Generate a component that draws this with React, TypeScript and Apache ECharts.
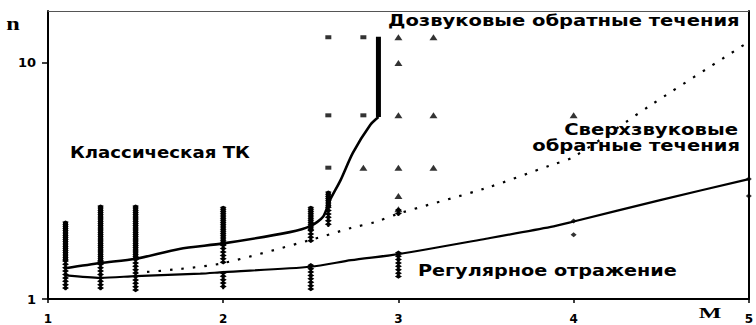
import React, { useEffect, useRef } from 'react';
import * as echarts from 'echarts';

// ---- data (M, n) ----
const upperM = [1.1, 1.3, 1.5, 1.75, 2.0, 2.38, 2.5, 2.57, 2.61, 2.67, 2.74, 2.84, 2.886];
const upperN = [1.35, 1.42, 1.48, 1.63, 1.72, 1.92, 2.04, 2.23, 2.63, 3.19, 4.16, 5.47, 5.9];
const jumpM = [2.886, 2.886];
const jumpN = [5.9, 12.9];
const lowerM = [1.1, 1.3, 1.5, 1.87, 2.0, 2.5, 2.73, 3.0, 3.5, 3.87, 4.0, 4.5, 5.0];
const lowerN = [1.26, 1.23, 1.25, 1.28, 1.3, 1.37, 1.46, 1.55, 1.8, 2.02, 2.13, 2.63, 3.22];
const dottedM = [1.5, 1.75, 2.0, 2.5, 2.73, 2.87, 3.0, 3.5, 3.87, 4.0, 4.45, 5.0];
const dottedN = [1.29, 1.34, 1.42, 1.78, 2.0, 2.12, 2.3, 2.95, 3.69, 4.0, 6.7, 12.3];

// observation stacks: [M, nLow, nHigh]
const denseStacks = [
  [1.1, 1.45, 2.12],
  [1.3, 1.45, 2.48],
  [1.5, 1.47, 2.48],
  [2.0, 1.69, 2.45],
  [2.5, 1.95, 2.45],
  [2.6, 2.45, 2.84],
];
const sparseStacks = [
  [1.1, 1.09, 1.45],
  [1.3, 1.09, 1.45],
  [1.5, 1.09, 1.47],
  [2.0, 1.42, 1.69],
  [2.0, 1.1, 1.29],
  [2.5, 1.74, 1.95],
  [2.5, 1.1, 1.39],
  [2.6, 2.02, 2.45],
  [3.0, 1.23, 1.57],
  [3.0, 2.25, 2.38],
];

const squarePts = [[2.6, 12.85], [2.8, 12.85], [2.6, 6.0], [2.8, 6.0], [2.6, 3.6]];
const trianglePts = [
  [3.0, 12.85], [3.2, 12.85], [3.0, 10], [3.0, 6.0], [3.2, 6.0],
  [2.8, 3.6], [3.0, 3.6], [3.2, 3.6], [3.0, 2.73], [3.0, 2.4], [4.0, 6.0],
];
const dotPts = [[4.0, 1.87], [4.0, 2.14], [5.0, 3.22], [5.0, 2.73]];

const annotTexts = [
  'Дозвуковые обратные течения',
  'Сверхзвуковые',
  'обратные течения',
  'Классическая ТК',
  'Регулярное отражение',
];

const zip = (a: number[], b: number[]) => a.map((v, i) => [v, b[i]]);

export default function App() {
  const ref = useRef<HTMLDivElement>(null);
  useEffect(() => {
    document.body.style.margin = '0';
    const chart = echarts.init(ref.current!, null, { renderer: 'svg' });
    const ctx = document.createElement('canvas').getContext('2d')!;
    const FF = '"DejaVu Sans"';
    const fit = (text: string, font: string, target: number) => {
      ctx.font = font;
      const w = ctx.measureText(text).width || 1;
      return target / w;
    };

    const annotFont = { fontFamily: 'DejaVu Sans', fontSize: 15, fontWeight: 'bold' as const };
    const annotFontStr = `bold 15px ${FF}`;
    // [x anchor, y center, align, target width]
    const annotPos: [number, number, 'left' | 'right', number][] = [
      [388, 21, 'left', 352],
      [738, 130, 'right', 174],
      [740, 146, 'right', 208],
      [70, 153, 'left', 180],
      [418, 271, 'left', 259],
    ];

    const graphics: any[] = annotTexts.map((t, i) => {
      const [x, y, align, w] = annotPos[i];
      return {
        type: 'text',
        x,
        y,
        scaleX: fit(t, annotFontStr, w),
        style: { text: t, ...annotFont, fill: '#000', align, verticalAlign: 'middle' },
        z: 100,
      };
    });
    graphics.push({
      type: 'text', x: 13, y: 24, scaleX: 1.35,
      style: { text: 'n', fontFamily: 'Liberation Serif', fontSize: 18, fontWeight: 'bold', fill: '#000', align: 'center', verticalAlign: 'middle' },
    });
    graphics.push({
      type: 'text', x: 710, y: 313, scaleX: 1.6,
      style: { text: 'M', fontFamily: 'Liberation Serif', fontSize: 15, fontWeight: 'bold', fill: '#000', align: 'center', verticalAlign: 'middle' },
    });

    const stackRender = (step: number, w: number, h: number, core: number) => (params: any, api: any) => {
      const m = api.value(0);
      const lo = api.coord([m, api.value(1)]);
      const hi = api.coord([m, api.value(2)]);
      const x = lo[0];
      const children: any[] = [
        {
          type: 'rect',
          shape: { x: x - core / 2, y: hi[1], width: core, height: lo[1] - hi[1] },
          style: { fill: '#000' },
        },
      ];
      for (let y = hi[1]; y <= lo[1] + 0.01; y += step) {
        children.push({
          type: 'polygon',
          shape: { points: [[x - w / 2, y], [x, y - h / 2], [x + w / 2, y], [x, y + h / 2]] },
          style: { fill: '#000' },
        });
      }
      return { type: 'group', children };
    };

    const yLog = {
      type: 'log', logBase: 10, min: 1, max: 16.6,
    };

    const option: any = {
      animation: false,
      backgroundColor: '#fff',
      grid: { left: 48, right: 7, top: 11, bottom: 26, containLabel: false },
      xAxis: [
        {
          type: 'value', min: 1, max: 5, interval: 1,
          axisLine: { show: true, lineStyle: { color: '#000', width: 2 } },
          axisTick: { show: true, length: 4, lineStyle: { color: '#000', width: 1.5 } },
          axisLabel: { color: '#000', fontFamily: 'DejaVu Sans', fontWeight: 'bold', fontSize: 12, margin: 14 },
          splitLine: { show: false },
        },
        {
          type: 'value', min: 1, max: 5, position: 'top',
          axisLine: { show: true, lineStyle: { color: '#555', width: 1 } },
          axisTick: { show: false }, axisLabel: { show: false }, splitLine: { show: false },
        },
      ],
      yAxis: [
        {
          ...yLog,
          axisLine: { show: true, lineStyle: { color: '#000', width: 2 } },
          axisTick: { show: true, length: 6, lineStyle: { color: '#000', width: 1.5 } },
          axisLabel: {
            color: '#000', fontFamily: 'DejaVu Sans', fontWeight: 'bold', fontSize: 13, margin: 12,
            showMaxLabel: false,
            formatter: (v: number) => (Math.abs(v - 1) < 1e-6 || Math.abs(v - 10) < 1e-6 ? String(Math.round(v)) : ''),
          },
          splitLine: { show: false },
          minorTick: { show: false },
        },
        {
          ...yLog, position: 'right',
          axisLine: { show: true, lineStyle: { color: '#000', width: 2 } },
          axisTick: { show: false }, axisLabel: { show: false }, splitLine: { show: false },
        },
      ],
      graphic: graphics,
      series: [
        {
          type: 'line', data: zip(upperM, upperN), smooth: 0.25, symbol: 'none',
          lineStyle: { color: '#000', width: 2.6 }, z: 5,
        },
        {
          type: 'line', data: zip(jumpM, jumpN), symbol: 'none',
          lineStyle: { color: '#000', width: 5 }, z: 5,
        },
        {
          type: 'line', data: zip(lowerM, lowerN), smooth: 0.25, symbol: 'none',
          lineStyle: { color: '#000', width: 2.2 }, z: 5,
        },
        {
          type: 'line', data: zip(dottedM, dottedN), smooth: 0.3, symbol: 'none',
          lineStyle: { color: '#000', width: 2.2, type: [2.5, 9] }, z: 5,
        },
        {
          type: 'custom', data: denseStacks, encode: { x: 0, y: [1, 2] },
          renderItem: stackRender(2.2, 7, 3, 5), clip: false, z: 6,
        },
        {
          type: 'custom', data: sparseStacks, encode: { x: 0, y: [1, 2] },
          renderItem: stackRender(3.4, 7, 4.5, 2), clip: false, z: 6,
        },
        {
          type: 'scatter', data: squarePts, symbol: 'rect', symbolSize: [6, 4],
          itemStyle: { color: '#000' }, z: 7,
        },
        {
          type: 'scatter', data: trianglePts, symbol: 'triangle', symbolSize: [8, 6],
          itemStyle: { color: '#000' }, z: 7,
        },
        {
          type: 'scatter', data: dotPts, symbol: 'diamond', symbolSize: [6, 5],
          itemStyle: { color: '#000' }, z: 7,
        },
      ],
    };
    chart.setOption(option);
    return () => chart.dispose();
  }, []);
  return (
    <div
      ref={ref}
      style={{ position: 'absolute', left: 0, top: 0, width: 756, height: 325, background: '#fff' }}
    />
  );
}
